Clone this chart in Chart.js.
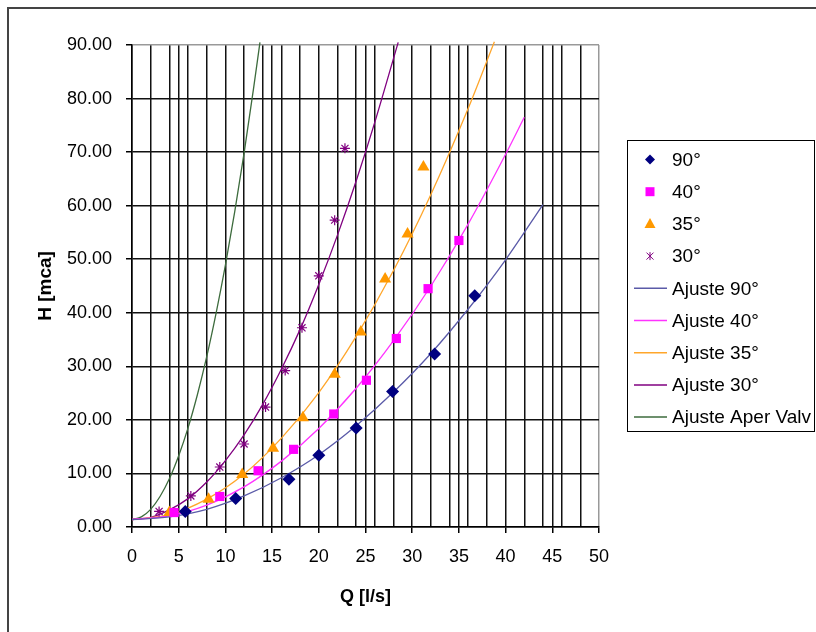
<!DOCTYPE html>
<html>
<head>
<meta charset="utf-8">
<script src="https://cdn.jsdelivr.net/npm/chart.js@4.4.0/dist/chart.umd.min.js"></script>
<style>
html, body { margin: 0; padding: 0; background: #fff; overflow: hidden; }
#wrap { position: relative; width: 816px; height: 632px; }
#frame { position: absolute; left: 7px; top: 7px; width: 900px; height: 700px; border: 2px solid #444; box-sizing: border-box; }
canvas { position: absolute; left: 0; top: 0; }
</style>
</head>
<body>
<div id="wrap">
    <div id="frame"></div>
    <canvas id="myChart" width="816" height="632"></canvas>
</div>
<script>
// Measured points (Q [l/s], H [mca])
const q90 = [5.7, 11.1, 16.8, 20.0, 24.0, 27.9, 32.4, 36.7];
const h90 = [2.9, 5.3, 8.9, 13.4, 18.5, 25.3, 32.3, 43.2];
const q40 = [4.5, 9.4, 13.5, 17.3, 21.6, 25.1, 28.3, 31.7, 35.0];
const h40 = [2.7, 5.7, 10.5, 14.5, 21.1, 27.4, 35.2, 44.5, 53.5];
const q35 = [4.0, 8.2, 11.8, 15.1, 18.3, 21.7, 24.5, 27.1, 29.5, 31.2];
const h35 = [2.7, 5.2, 9.8, 14.7, 20.4, 28.5, 36.4, 46.3, 54.7, 67.2];
const q30 = [2.9, 6.3, 9.4, 12.0, 14.3, 16.4, 18.2, 20.0, 21.7, 22.8];
const h30 = [2.9, 5.8, 11.2, 15.5, 22.4, 29.2, 37.2, 46.9, 57.3, 70.7];

// Fitted curves
const qFit90 = [0, 4, 8, 12, 16, 20, 24, 28, 32, 36, 40, 44];
const hFit90 = [1.4, 1.9, 3.3, 5.8, 9.2, 13.5, 18.9, 25.2, 32.4, 40.7, 49.9, 60.2];
const qFit40 = [0, 4, 8, 12, 16, 20, 24, 28, 32, 36, 40, 42];
const hFit40 = [1.4, 2.1, 4.1, 7.5, 12.3, 18.4, 25.9, 34.8, 45.0, 56.6, 69.6, 76.5];
const qFit35 = [0, 4, 8, 12, 16, 20, 24, 28, 32, 36, 38.8];
const hFit35 = [1.4, 2.3, 5.2, 9.9, 16.6, 25.1, 35.6, 47.9, 62.1, 78.2, 90.6];
const qFit30 = [0, 2, 4, 6, 8, 10, 12, 14, 16, 18, 20, 22, 24, 26, 28.5];
const hFit30 = [1.4, 1.8, 3.2, 5.3, 8.4, 12.4, 17.2, 22.9, 29.5, 36.9, 45.3, 54.5, 64.6, 75.6, 90.5];
const qValv = [0, 1, 2, 3, 4, 5, 6, 7, 8, 9, 10, 11, 12, 13, 13.7];
const hValv = [1.4, 1.9, 3.3, 5.7, 9.0, 13.3, 18.5, 24.7, 31.8, 39.9, 48.9, 58.9, 69.8, 81.7, 90.5];

// Axis ticks
const xGridTicks = [0, 2, 4, 5, 6, 8, 10, 12, 14, 15, 16, 18, 20, 22, 24, 25, 26, 28, 30, 32, 34, 35, 36, 38, 40, 42, 44, 45, 46, 48, 50];
const yTicks = [0, 10, 20, 30, 40, 50, 60, 70, 80, 90];

function pts(xs, ys) {
    return xs.map(function(x, i) { return { x: x, y: ys[i] }; });
}

function drawMarker(ctx, style, x, y, color) {
    ctx.save();
    ctx.fillStyle = color;
    ctx.strokeStyle = color;
    ctx.lineWidth = 1;
    ctx.beginPath();
    if (style === 'rectRot') {
        ctx.moveTo(x, y - 5); ctx.lineTo(x + 5, y); ctx.lineTo(x, y + 5); ctx.lineTo(x - 5, y);
        ctx.closePath(); ctx.fill();
    } else if (style === 'rect') {
        ctx.rect(x - 4.5, y - 4.5, 9, 9); ctx.fill();
    } else if (style === 'triangle') {
        ctx.moveTo(x, y - 6); ctx.lineTo(x + 5.5, y + 4); ctx.lineTo(x - 5.5, y + 4);
        ctx.closePath(); ctx.fill();
    } else if (style === 'star') {
        ctx.moveTo(x - 3.5, y - 3.5); ctx.lineTo(x + 3.5, y + 3.5);
        ctx.moveTo(x + 3.5, y - 3.5); ctx.lineTo(x - 3.5, y + 3.5);
        ctx.moveTo(x, y - 4); ctx.lineTo(x, y + 4);
        ctx.stroke();
    }
    ctx.restore();
}

const legendItems = [
    { text: '90°', marker: 'rectRot', color: '#000080' },
    { text: '40°', marker: 'rect', color: '#ff00ff' },
    { text: '35°', marker: 'triangle', color: '#ff9900' },
    { text: '30°', marker: 'star', color: '#800080' },
    { text: 'Ajuste 90°', line: '#5a5aa8' },
    { text: 'Ajuste 40°', line: '#ff33ff' },
    { text: 'Ajuste 35°', line: '#ffa62b' },
    { text: 'Ajuste 30°', line: '#800080' },
    { text: 'Ajuste Aper Valv', line: '#3d6b3d' }
];

const boxLegend = {
    id: 'boxLegend',
    afterDraw: function(chart) {
        const ctx = chart.ctx;
        ctx.save();
        ctx.strokeStyle = '#000';
        ctx.lineWidth = 1;
        ctx.strokeRect(627.5, 140.5, 187, 291);
        ctx.font = '19px "Liberation Sans", Arial, sans-serif';
        ctx.textBaseline = 'middle';
        ctx.fillStyle = '#000';
        legendItems.forEach(function(item, i) {
            const y = 159.5 + i * 32.2;
            if (item.marker) {
                drawMarker(ctx, item.marker, 650, y, item.color);
            } else {
                ctx.strokeStyle = item.line;
                ctx.lineWidth = 1.5;
                ctx.beginPath();
                ctx.moveTo(634, y);
                ctx.lineTo(667, y);
                ctx.stroke();
            }
            ctx.fillText(item.text, 672, y + 1);
        });
        ctx.restore();
    }
};

const pointSet = function(label, xs, ys, style, color, radius) {
    return {
        label: label,
        data: pts(xs, ys),
        showLine: false,
        pointStyle: style,
        pointRadius: radius,
        pointBackgroundColor: color,
        pointBorderColor: color,
        pointBorderWidth: style === 'star' ? 1.2 : 0
    };
};

const lineSet = function(label, xs, ys, color) {
    return {
        label: label,
        data: pts(xs, ys),
        showLine: true,
        borderColor: color,
        borderWidth: 1.3,
        pointRadius: 0,
        tension: 0.4,
        cubicInterpolationMode: 'monotone',
        clip: 10
    };
};

const tickFont = { family: '"Liberation Sans", Arial, sans-serif', size: 18 };

const config = {
    type: 'scatter',
    data: {
        datasets: [
            pointSet('90°', q90, h90, 'rectRot', '#000080', 6.5),
            pointSet('40°', q40, h40, 'rect', '#ff00ff', 6.5),
            pointSet('35°', q35, h35, 'triangle', '#ff9900', 7),
            pointSet('30°', q30, h30, 'star', '#800080', 5),
            lineSet('Ajuste 90°', qFit90, hFit90, '#5a5aa8'),
            lineSet('Ajuste 40°', qFit40, hFit40, '#ff33ff'),
            lineSet('Ajuste 35°', qFit35, hFit35, '#ffa62b'),
            lineSet('Ajuste 30°', qFit30, hFit30, '#800080'),
            lineSet('Ajuste Aper Valv', qValv, hValv, '#3d6b3d')
        ]
    },
    options: {
        responsive: false,
        animation: false,
        layout: { padding: { left: 0, top: 45, right: 217, bottom: 0 } },
        plugins: {
            legend: { display: false },
            tooltip: { enabled: false }
        },
        scales: {
            x: {
                type: 'linear',
                min: 0,
                max: 50,
                afterBuildTicks: function(scale) {
                    scale.ticks = xGridTicks.map(function(v) { return { value: v }; });
                },
                afterFit: function(scale) { scale.height = 105; },
                ticks: {
                    autoSkip: false,
                    maxRotation: 0,
                    padding: 13,
                    color: '#000',
                    font: tickFont,
                    callback: function(v) { return v % 5 === 0 ? String(v) : ''; }
                },
                grid: {
                    color: function(c) { return c.tick && c.tick.value === 50 ? '#999' : '#111'; },
                    tickColor: function(c) { return c.tick && c.tick.value % 5 === 0 ? '#000' : 'rgba(0,0,0,0)'; },
                    tickLength: 6,
                    lineWidth: 1.5
                },
                border: { color: '#000', width: 1.5 },
                title: {
                    display: true,
                    text: 'Q [l/s]',
                    color: '#000',
                    font: { family: '"Liberation Sans", Arial, sans-serif', size: 18, weight: 'bold' },
                    padding: { top: 0, bottom: 24 }
                }
            },
            y: {
                type: 'linear',
                min: 0,
                max: 90,
                afterBuildTicks: function(scale) {
                    scale.ticks = yTicks.map(function(v) { return { value: v }; });
                },
                afterFit: function(scale) { scale.width = 132; },
                ticks: {
                    padding: 14,
                    color: '#000',
                    font: tickFont,
                    callback: function(v) { return Number(v).toFixed(2); }
                },
                grid: {
                    color: function(c) { return c.tick && c.tick.value === 90 ? '#999' : '#111'; },
                    tickColor: '#000',
                    tickLength: 6,
                    lineWidth: 1.5
                },
                border: { color: '#000', width: 1.5 },
                title: {
                    display: true,
                    text: 'H [mca]',
                    color: '#000',
                    font: { family: '"Liberation Sans", Arial, sans-serif', size: 19, weight: 'bold' },
                    padding: { top: 34, bottom: 0 }
                }
            }
        }
    },
    plugins: [boxLegend]
};

const myChart = new Chart(document.getElementById('myChart'), config);
</script>
</body>
</html>
